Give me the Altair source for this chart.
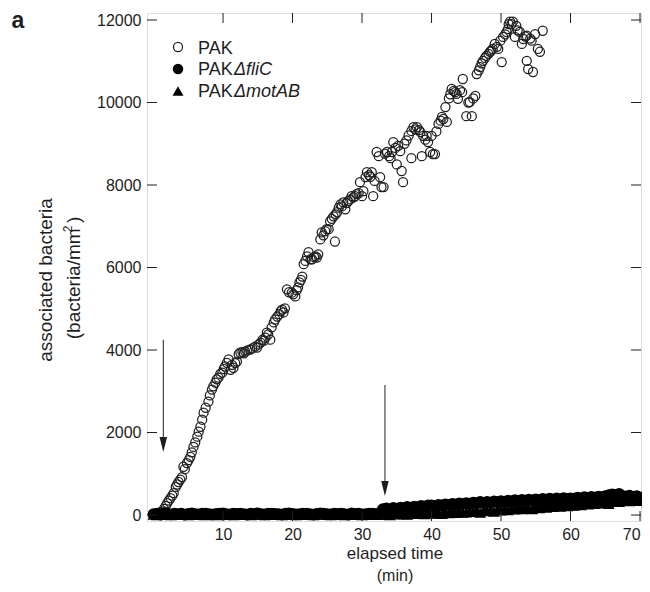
import altair as alt
import pandas as pd

# ---------------- data ----------------
pak_t = [0.3, 0.6, 0.9, 1.2, 1.5, 1.75, 1.97, 2.2, 2.44, 2.7,
         2.9, 3.2, 3.4, 3.6, 3.85, 4.1, 4.3, 4.5, 4.8, 5.05,
         5.3, 5.5, 5.75, 6.0, 6.3, 6.5, 6.75, 7.0, 7.2, 7.5,
         7.9, 8.1, 8.4, 8.6, 8.9, 9.1, 9.35, 9.6, 9.9, 10.1,
         10.3, 10.55, 10.8, 11.1, 11.3, 11.5, 11.75, 12.0, 12.25, 12.5,
         12.8, 13.0, 13.2, 13.5, 13.9, 14.2, 14.6, 14.9, 15.1, 15.4,
         15.7, 15.9, 16.1, 16.3, 16.5, 16.8, 17.0, 17.3, 17.5, 17.8,
         18.1, 18.3, 18.5, 18.7, 18.9, 19.2, 19.5, 19.9, 20.1, 20.4,
         20.6, 20.8, 21.0, 21.2, 21.4, 21.6, 21.85, 22.1, 22.3, 22.6,
         22.8, 23.1, 23.3, 23.5, 23.7, 24.0, 24.2, 24.45, 24.7, 24.9,
         25.2, 25.4, 25.65, 25.9, 26.1, 26.2, 26.4, 26.65, 26.9, 27.1,
         27.3, 27.6, 27.8, 28.0, 28.3, 28.5, 28.8, 29.0, 29.2, 29.5,
         29.7, 30.0, 30.2, 30.5, 30.7, 31.0, 31.2, 31.4, 31.6, 31.8,
         32.1, 32.4, 32.6, 32.8, 33.1, 33.3, 33.6, 33.9, 34.1, 34.3,
         34.5, 34.8, 35.0, 35.2, 35.5, 35.7, 35.9, 36.1, 36.4, 36.7,
         37.1, 37.1, 37.4, 37.7, 37.9, 38.2, 38.4, 38.6, 38.8, 39.1,
         39.3, 39.5, 39.8, 40.0, 40.2, 40.5, 40.7, 41.0, 41.3, 41.5,
         41.7, 42.0, 42.2, 42.5, 42.7, 42.9, 43.2, 43.4, 43.6, 43.8,
         44.1, 44.4, 44.5, 45.0, 45.3, 45.5, 45.8, 46.0, 46.3, 46.5,
         46.8, 47.0, 47.2, 47.4, 47.7, 47.9, 48.2, 48.4, 48.6, 48.8,
         49.1, 49.4, 49.6, 49.9, 50.1, 50.3, 50.6, 50.8, 51.0, 51.1,
         51.3, 51.5, 51.7, 52.0, 52.2, 52.4, 52.7, 53.0, 53.2, 53.5,
         53.7, 53.7, 53.9, 54.2, 54.4, 54.6, 54.9, 55.3, 55.6, 56.0]
pak_v = [20, 40, 60, 90, 150, 220, 290, 350, 410, 470,
         530, 680, 740, 800, 860, 920, 1170, 1110, 1260, 1330,
         1410, 1520, 1650, 1760, 1900, 2020, 2140, 2310, 2480, 2600,
         2750, 2900, 3040, 3120, 3210, 3290, 3330, 3420, 3450, 3540,
         3600, 3690, 3770, 3520, 3640, 3570, 3680, 3720, 3900, 3940,
         3950, 3920, 3960, 3990, 4010, 4040, 4080, 4060, 4130, 4180,
         4250, 4230, 4300, 4420, 4380, 4250, 4550, 4670, 4740, 4810,
         4870, 4940, 4980, 4910, 5010, 5470, 5400, 5390, 5350, 5300,
         5450, 5520, 5640, 5700, 5780, 6080, 6160, 6270, 6370, 6200,
         6200, 6250, 6270, 6240, 6320, 6680, 6850, 6780, 6880, 6930,
         6930, 7120, 7180, 7240, 6630, 7290, 7340, 7450, 7530, 7480,
         7580, 7410, 7560, 7610, 7650, 7730, 7700, 7730, 7780, 7800,
         8070, 7730, 7850, 8190, 8310, 8240, 8200, 8310, 7730, 8100,
         8800, 8700, 8190, 7950, 7950, 8760, 8800, 8700, 8650, 8800,
         9040, 8900, 8500, 8950, 8820, 8340, 8070, 9000, 9080, 9200,
         9310, 8650, 9400, 9350, 9400, 9330, 9280, 8700, 9190, 9100,
         9190, 9040, 8800, 9190, 8750, 8750, 9300, 9480, 9560, 9650,
         9600, 9890, 9530, 10100, 10200, 10330, 10280, 10250, 10210, 10090,
         10300, 10250, 10570, 9670, 10000, 10010, 9670, 10100, 10160, 10690,
         10780, 10860, 10950, 11010, 11080, 11130, 11180, 11230, 11260, 11300,
         11420, 11350, 11300, 11500, 10980, 11590, 11650, 11710, 11780, 11900,
         11960, 11900, 11960, 11590, 11860, 11750, 11710, 11420, 11540, 11600,
         11620, 11010, 10810, 11550, 11500, 10740, 11660, 11300, 11230, 11740]

# mutants sampled every 0.5 min, 0 .. 70 min
band_t = [round(0.5 * i, 1) for i in range(141)]
flic_v = [20, 30, 10, 40, 25, 15, 35, 20, 30, 10,
          25, 40, 20, 15, 30, 35, 20, 10, 25, 30,
          40, 20, 15, 30, 25, 35, 20, 10, 30, 25,
          40, 20, 15, 30, 35, 25, 20, 10, 30, 40,
          25, 15, 20, 35, 30, 20, 10, 25, 40, 30,
          20, 15, 35, 25, 30, 20, 10, 40, 25, 30,
          15, 20, 35, 30, 25, 20,
          140, 160, 130, 170, 150, 180, 165, 195, 175, 205,
          190, 220, 205, 235, 230, 215, 245, 230, 260, 245,
          270, 255, 280, 265, 290, 275, 300, 285, 315, 290,
          320, 300, 330, 310, 335, 320, 345, 330, 360, 340,
          365, 350, 375, 355, 380, 360, 390, 370, 395, 375,
          400, 380, 410, 390, 405, 395, 420, 400, 430, 410,
          440, 420, 445, 430, 460, 480, 500, 490, 510, 460,
          450, 470, 440, 455, 425]
motab_v = [10, 0, 20, 5, 15, 0, 25, 10, 5, 20,
           0, 15, 10, 25, 5, 0, 20, 15, 10, 0,
           25, 5, 15, 0, 20, 10, 5, 25, 0, 15,
           10, 20, 0, 5, 25, 15, 10, 0, 20, 5,
           15, 0, 25, 10, 5, 20, 0, 15, 10, 25,
           5, 0, 20, 15, 10, 0, 25, 5, 15, 20,
           0, 10, 5, 25, 15, 10,
           10, 30, 0, 25, 15, 35, 20, 10, 40, 25,
           45, 30, 20, 50, 35, 55, 40, 30, 60, 45,
           70, 50, 80, 55, 65, 90, 75, 100, 60, 110,
           95, 120, 80, 125, 110, 140, 120, 150, 135, 165,
           145, 175, 160, 140, 185, 170, 200, 180, 215, 195,
           220, 205, 235, 215, 240, 225, 260, 240, 275, 255,
           290, 270, 300, 280, 310, 270, 320, 340, 320, 350,
           355, 335, 365, 345, 340]

x_ticks = [10, 20, 30, 40, 50, 60, 70]
y_ticks = [0, 2000, 4000, 6000, 8000, 10000, 12000]

arrow_t = [1.41, 33.3]
arrow_top = [4250, 3150]
arrow_bottom = [1850, 760]
arrow_head = [1709, 642]

assert len(pak_t) == len(pak_v)
assert len(band_t) == len(flic_v) == len(motab_v)

# ---------------- chart ----------------
W, H = 494, 508
FONT = "Liberation Sans"
INK = "#1e1e1e"

xs = alt.Scale(domain=[-0.94, 70.14], nice=False, zero=False)
ys = alt.Scale(domain=[-145, 12170], nice=False, zero=False)

pak_df = pd.DataFrame({"t": pak_t, "v": pak_v})
band_df = pd.DataFrame({"t": band_t, "flic": flic_v, "motab": motab_v})
xt_df = pd.DataFrame({"x": x_ticks})
yt_df = pd.DataFrame({"y": y_ticks})
arr_df = pd.DataFrame({"t": arrow_t, "top": arrow_top, "bot": arrow_bottom, "head": arrow_head})
one = pd.DataFrame({"k": [0]})

x_axis = alt.Axis(values=x_ticks, tickSize=0, domain=False, grid=False, title=None,
                  labelFontSize=16, labelPadding=5, labelColor=INK, labelFont=FONT)
y_axis = alt.Axis(values=y_ticks, tickSize=0, domain=False, grid=False, title=None, format="d",
                  labelFontSize=16, labelPadding=6, labelColor=INK, labelFont=FONT)

pak = alt.Chart(pak_df).mark_point(shape="circle", filled=False, size=82, stroke=INK,
                                   strokeWidth=1.25, opacity=1).encode(
    x=alt.X("t:Q", scale=xs, axis=x_axis),
    y=alt.Y("v:Q", scale=ys, axis=y_axis),
)

motab = alt.Chart(band_df).mark_point(shape="triangle-up", filled=True, size=140,
                                      color="black", opacity=1).encode(
    x=alt.X("t:Q", scale=xs), y=alt.Y("motab:Q", scale=ys))
flic = alt.Chart(band_df).mark_point(shape="circle", filled=True, size=140,
                                     color="black", opacity=1).encode(
    x=alt.X("t:Q", scale=xs), y=alt.Y("flic:Q", scale=ys))

tick_style = dict(color=INK, strokeWidth=1)
bottom_ticks = alt.Chart(xt_df).mark_rule(**tick_style).encode(
    x=alt.X("x:Q", scale=xs), y=alt.value(H), y2=alt.value(H - 10))
top_ticks = alt.Chart(xt_df).mark_rule(**tick_style).encode(
    x=alt.X("x:Q", scale=xs), y=alt.value(0), y2=alt.value(10))
left_ticks = alt.Chart(yt_df).mark_rule(**tick_style).encode(
    y=alt.Y("y:Q", scale=ys), x=alt.value(0), x2=alt.value(10))
right_ticks = alt.Chart(yt_df).mark_rule(**tick_style).encode(
    y=alt.Y("y:Q", scale=ys), x=alt.value(W), x2=alt.value(W - 10))

arrow_lines = alt.Chart(arr_df).mark_rule(color="#333333", strokeWidth=1.1).encode(
    x=alt.X("t:Q", scale=xs), y=alt.Y("top:Q", scale=ys), y2="bot:Q")
arrow_heads = alt.Chart(arr_df).mark_point(shape="M-0.5,-1L0.5,-1L0,1Z", filled=True,
                                           size=225, color="#1e1e1e", opacity=1).encode(
    x=alt.X("t:Q", scale=xs), y=alt.Y("head:Q", scale=ys))

# legend
leg_open = alt.Chart(one).mark_point(shape="circle", filled=False, size=82, stroke=INK,
                                     strokeWidth=1.25, opacity=1).encode(
    x=alt.value(31), y=alt.value(34))
leg_fill = alt.Chart(one).mark_point(shape="circle", filled=True, size=110, color="black",
                                     opacity=1).encode(x=alt.value(31), y=alt.value(56))
leg_tri = alt.Chart(one).mark_point(shape="triangle-up", filled=True, size=120, color="black",
                                    opacity=1).encode(x=alt.value(31), y=alt.value(78))

def txt(s, x, y, size=18, style="normal", weight="normal", angle=0, align="left"):
    return alt.Chart(one).mark_text(text=s, font=FONT, fontSize=size, fontStyle=style,
                                    fontWeight=weight, angle=angle, align=align,
                                    baseline="middle", color=INK).encode(
        x=alt.value(x), y=alt.value(y))

leg_txt = [
    txt("PAK", 51, 35.5),
    txt("PAK", 51, 57),
    txt("\u0394fliC", 87, 57, style="italic"),
    txt("PAK", 51, 79),
    txt("\u0394motAB", 87, 79, style="italic"),
]

titles = [
    txt("elapsed time", 248, 541, size=17, align="center"),
    txt("(min)", 248, 563, size=16, align="center"),
    txt("associated bacteria", -101, 267, size=19, angle=270, align="center"),
    txt("(bacteria/mm  )", -73, 265, size=19, angle=270, align="center"),
    txt("2", -79, 216, size=12, angle=270, align="center"),
    txt("a", -129, 8, size=23, weight="bold", align="center"),
]

chart = alt.layer(
    pak, motab, flic, bottom_ticks, top_ticks, left_ticks, right_ticks,
    arrow_lines, arrow_heads, leg_open, leg_fill, leg_tri, *leg_txt, *titles
).properties(
    width=W, height=H,
    autosize=alt.AutoSizeParams(type="none"),
    padding={"left": 139, "top": 5, "right": 1, "bottom": 63},
).configure_view(stroke=INK, strokeWidth=1).configure(background="white")

chart.save("out.html", embed_options={"renderer": "svg", "actions": False})
